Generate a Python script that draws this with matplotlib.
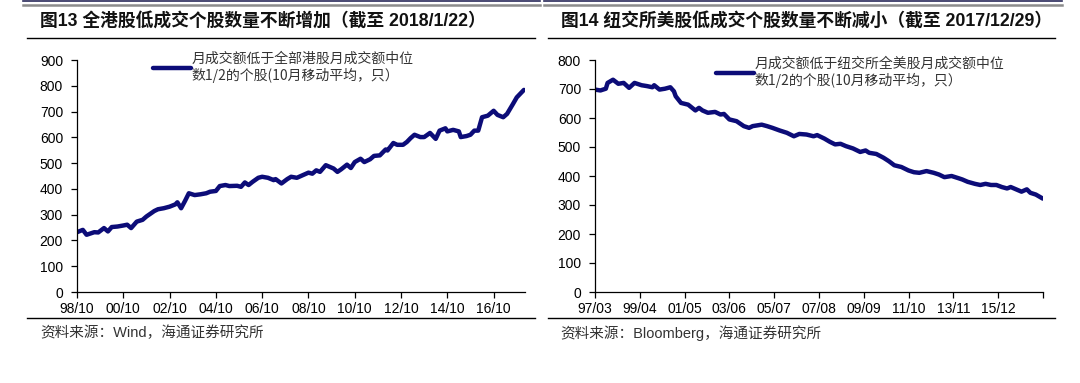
import matplotlib
matplotlib.use("Agg")
from matplotlib import pyplot as plt
from matplotlib.lines import Line2D
import pandas as pd

plt.rcParams['font.family'] = ['Liberation Sans', 'Noto Sans CJK SC', 'DejaVu Sans']

# Fig 13: HK low-turnover stocks (10m moving avg)
hk_dates = [
    "1998-10", "1999-01", "1999-03", "1999-07", "1999-09", "1999-12", "2000-02", "2000-04",
    "2000-07", "2000-10", "2000-12", "2001-02", "2001-05", "2001-08", "2001-10", "2002-02",
    "2002-04", "2002-07", "2002-10", "2003-01", "2003-02", "2003-04", "2003-06", "2003-08",
    "2003-11", "2004-02", "2004-05", "2004-07", "2004-10", "2004-12", "2005-03", "2005-05",
    "2005-09", "2005-11", "2006-01", "2006-03", "2006-05", "2006-08", "2006-10", "2007-01",
    "2007-04", "2007-05", "2007-08", "2007-11", "2008-01", "2008-04", "2008-07", "2008-10",
    "2008-12", "2009-02", "2009-04", "2009-07", "2009-11", "2010-01", "2010-03", "2010-06",
    "2010-08", "2010-10", "2011-01", "2011-03", "2011-06", "2011-08", "2011-11", "2012-02",
    "2012-03", "2012-06", "2012-08", "2012-11", "2013-01", "2013-03", "2013-05", "2013-08",
    "2013-10", "2014-01", "2014-04", "2014-06", "2014-09", "2014-10", "2015-01", "2015-04",
    "2015-05", "2015-08", "2015-10", "2015-12", "2016-02", "2016-04", "2016-07", "2016-10",
    "2016-12", "2017-03", "2017-05", "2017-08", "2017-10", "2018-01-22",
]
hk_counts = [
    232, 241, 222, 232, 231, 248, 235, 252,
    254, 258, 261, 248, 273, 280, 293, 314,
    321, 325, 331, 340, 348, 325, 353, 383,
    376, 379, 383, 389, 392, 411, 415, 411,
    412, 408, 425, 415, 427, 443, 447, 443,
    434, 438, 421, 438, 447, 443, 453, 463,
    459, 472, 466, 492, 479, 466, 476, 494,
    481, 504, 517, 504, 515, 528, 530, 553,
    549, 578, 571, 571, 582, 597, 610, 601,
    601, 617, 594, 626, 635, 623, 629, 623,
    601, 605, 610, 626, 626, 678, 684, 703,
    687, 678, 691, 729, 755, 784,
]
hk_ticks = ["1998-10", "2000-10", "2002-10", "2004-10", "2006-10",
            "2008-10", "2010-10", "2012-10", "2014-10", "2016-10"]
hk_tick_labels = ["98/10", "00/10", "02/10", "04/10", "06/10",
                  "08/10", "10/10", "12/10", "14/10", "16/10"]

# Fig 14: NYSE low-turnover stocks
us_dates = [
    "1997-03", "1997-06", "1997-09", "1997-10", "1998-01", "1998-04", "1998-07", "1998-10",
    "1999-01", "1999-05", "1999-08", "1999-11", "1999-12", "2000-03", "2000-06", "2000-09",
    "2000-11", "2000-12", "2001-03", "2001-07", "2001-11", "2002-01", "2002-03", "2002-06",
    "2002-10", "2003-01", "2003-03", "2003-06", "2003-10", "2004-02", "2004-05", "2004-07",
    "2004-12", "2005-03", "2005-06", "2005-10", "2006-02", "2006-06", "2006-09", "2007-01",
    "2007-05", "2007-07", "2007-11", "2008-02", "2008-05", "2008-08", "2008-11", "2009-03",
    "2009-07", "2009-10", "2009-12", "2010-04", "2010-08", "2010-11", "2011-02", "2011-06",
    "2011-10", "2012-01", "2012-04", "2012-08", "2012-12", "2013-03", "2013-06", "2013-10",
    "2014-02", "2014-04", "2014-07", "2014-11", "2015-02", "2015-05", "2015-08", "2015-11",
    "2016-02", "2016-05", "2016-07", "2016-10", "2017-01", "2017-04", "2017-06", "2017-09",
    "2017-12-29",
]
us_counts = [
    698, 695, 701, 721, 732, 718, 721, 704,
    721, 713, 710, 706, 713, 698, 701, 706,
    692, 675, 652, 646, 626, 635, 626, 618,
    621, 612, 614, 595, 589, 572, 566, 572,
    577, 572, 566, 557, 549, 537, 545, 543,
    537, 541, 529, 518, 509, 511, 503, 495,
    483, 488, 480, 476, 463, 451, 437, 431,
    419, 413, 411, 417, 411, 405, 396, 400,
    392, 388, 380, 373, 369, 373, 369, 369,
    362, 357, 362, 354, 346, 354, 342, 336,
    322,
]
us_ticks = ["1997-03", "1999-04", "2001-05", "2003-06", "2005-07", "2007-08",
            "2009-09", "2011-10", "2013-11", "2015-12", "2018-01"]
us_tick_labels = ["97/03", "99/04", "01/05", "03/06", "05/07", "07/08",
                  "09/09", "11/10", "13/11", "15/12", ""]

navy = "#0c0c78"
W, H = 1080, 383


def fx(px):
    return px / W


def fy(py):
    return 1 - py / H


def to_dt(vals):
    return pd.to_datetime(vals, format="ISO8601")


def draw_panel(fig, left_px, xlim, dates, vals, ticks, tick_lbls, yticks, ymax, label, legend_px):
    ax = fig.add_axes([fx(left_px), fy(292), fx(448), (292 - 60) / H])
    ax.plot(to_dt(dates), vals, color=navy, lw=3.2, solid_capstyle="round",
            solid_joinstyle="round", label=label)
    ax.set_xlim(to_dt([xlim[0]])[0], to_dt([xlim[1]])[0])
    ax.set_ylim(0, ymax)
    ax.set_yticks(yticks)
    ax.set_xticks(to_dt(ticks))
    ax.set_xticklabels(tick_lbls)
    for s in ["top", "right"]:
        ax.spines[s].set_visible(False)
    for s in ["left", "bottom"]:
        ax.spines[s].set_linewidth(0.9)
    ax.tick_params(axis="both", direction="out", length=4, width=0.9, labelsize=10,
                   colors="black", pad=3)
    ax.tick_params(axis="y", pad=6)
    leg = ax.legend(loc="upper left", bbox_to_anchor=(fx(legend_px[0]), fy(legend_px[1])),
                    bbox_transform=fig.transFigure, frameon=False, handlelength=2.7,
                    handletextpad=0.1, borderpad=0, borderaxespad=0,
                    prop={"family": ["Noto Sans CJK SC"], "size": 10})
    for t in leg.get_texts():
        t.set_color("#333333")
        t.set_linespacing(1.15)
    return ax


fig = plt.figure(figsize=(10.8, 3.83), dpi=100)

hk_label = "月成交额低于全部港股月成交额中位\n数1/2的个股(10月移动平均，只）"
us_label = "月成交额低于纽交所全美股月成交额中位\n数1/2的个股(10月移动平均，只）"

draw_panel(fig, 77, ("1998-10-01", "2018-02-08"), hk_dates, hk_counts, hk_ticks, hk_tick_labels,
           range(0, 901, 100), 900, hk_label, (153, 52))
draw_panel(fig, 595, ("1997-03-01", "2018-01-01"), us_dates, us_counts, us_ticks, us_tick_labels,
           range(0, 801, 100), 800, us_label, (716, 57))

# title frames
for x0, x1 in [(23, 540), (544, 1062)]:
    fig.add_artist(Line2D([fx(x0), fx(x1)], [fy(0.6), fy(0.6)], color="#2a2a5a", lw=1.2))
    fig.add_artist(Line2D([fx(x0), fx(x1)], [fy(5), fy(5)], color="#8c8c8c", lw=1.8))
for x0, x1 in [(27, 535), (548, 1055)]:
    fig.add_artist(Line2D([fx(x0), fx(x1)], [fy(38), fy(38)], color="black", lw=1.0))
    fig.add_artist(Line2D([fx(x0), fx(x1)], [fy(318), fy(318)], color="black", lw=1.0))

fig.text(fx(40), fy(21), "图13 全港股低成交个股数量不断增加（截至 2018/1/22）",
         fontsize=12.8, fontweight="bold", va="center", ha="left", color="#111111")
fig.text(fx(561), fy(21), "图14 纽交所美股低成交个股数量不断减小（截至 2017/12/29）",
         fontsize=12.8, fontweight="bold", va="center", ha="left", color="#111111")

fig.text(fx(40), fy(333), "资料来源：Wind，海通证券研究所", fontsize=10.5,
         va="center", ha="left", color="#333333")
fig.text(fx(560), fy(333), "资料来源：Bloomberg，海通证券研究所", fontsize=10.5,
         va="center", ha="left", color="#333333")

fig.savefig("out.png", dpi=100)
